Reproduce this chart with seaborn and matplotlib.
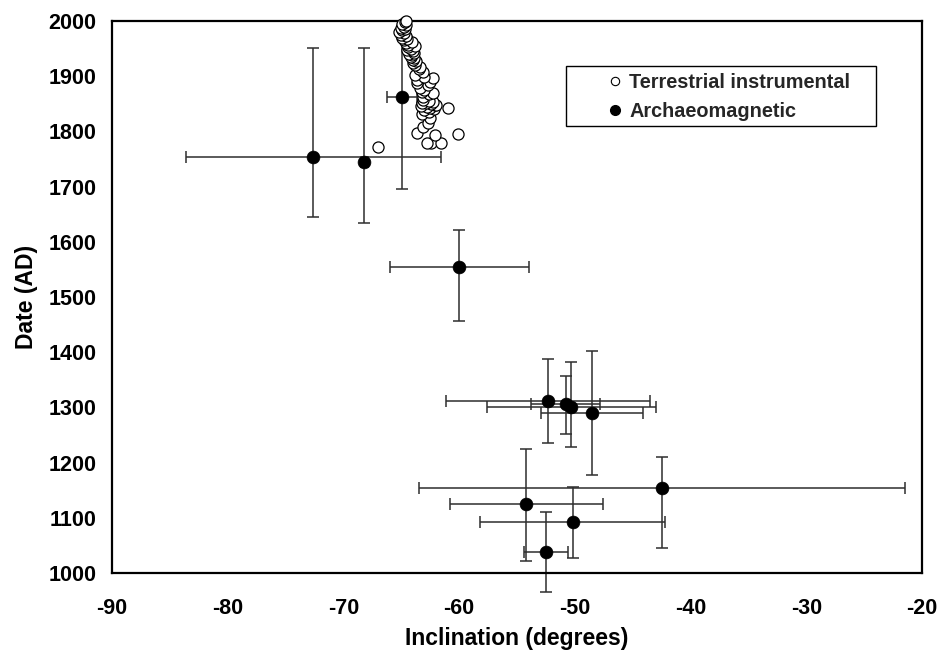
import matplotlib
matplotlib.use('Agg')
import matplotlib.pyplot as plt
import seaborn as sns
import pandas as pd
from matplotlib.lines import Line2D
from matplotlib.patches import Rectangle

sns.set_theme(style='white')
plt.rcParams['font.family'] = ['Liberation Sans', 'DejaVu Sans']
plt.rcParams['font.weight'] = 'bold'
plt.rcParams['axes.unicode_minus'] = False

# Terrestrial instrumental observations (inclination, date)
terr_date = [1772, 1779, 1779, 1779, 1793, 1795, 1797, 1808, 1815, 1824, 1832, 1835, 1839,
             1840, 1842, 1843, 1845, 1846, 1847, 1848, 1850, 1851, 1852, 1854, 1855, 1857,
             1862, 1868, 1870, 1871, 1875, 1879, 1884, 1888, 1890, 1893, 1897, 1899, 1902,
             1908, 1913, 1917, 1920, 1924, 1928, 1930, 1933, 1935, 1938, 1940, 1942, 1945,
             1948, 1950, 1952, 1955, 1957, 1960, 1962, 1965, 1968, 1970, 1972, 1975, 1978,
             1980, 1983, 1985, 1988, 1990, 1993, 1995, 1998, 2000]
terr_inc = [-67.0, -62.4, -61.6, -62.8, -62.1, -60.1, -63.6, -63.1, -62.7, -62.5, -63.2, -62.6, -63.0,
            -62.2, -61.0, -62.5, -62.8, -63.3, -62.1, -62.0, -62.4, -62.9, -63.2, -62.3, -62.6, -63.1,
            -63.1, -62.6, -62.3, -63.2, -63.0, -63.4, -62.7, -63.6, -62.5, -63.6, -62.3, -63.0, -63.8,
            -63.1, -63.5, -63.4, -63.8, -64.0, -63.7, -64.0, -63.9, -64.2, -64.1, -64.3, -63.9, -64.0,
            -64.5, -64.2, -64.4, -63.8, -64.4, -64.6, -64.1, -64.8, -64.5, -64.9, -64.6, -65.0, -64.8,
            -65.2, -64.9, -64.7, -65.0, -64.8, -64.6, -64.9, -64.7, -64.6]

# Archaeomagnetic results
arch_inc = [-72.6, -68.2, -64.9, -60.0, -52.3, -50.8, -50.3, -48.5, -42.5, -54.2, -50.2, -52.5]
arch_date = [1754, 1745, 1862, 1554, 1312, 1306, 1300, 1290, 1154, 1125, 1092, 1038]
arch_inc_err = [11.0, 0.3, 1.3, 6.0, 8.8, 3.0, 7.3, 4.4, 21.0, 6.6, 8.0, 1.9]
arch_date_err_lo = [109, 111, 166, 97, 76, 54, 72, 112, 108, 103, 65, 73]
arch_date_err_hi = [197, 206, 138, 67, 76, 51, 82, 112, 57, 100, 64, 73]

terr = pd.DataFrame({'Inclination': terr_inc, 'Date': terr_date})
arch = pd.DataFrame({'Inclination': arch_inc, 'Date': arch_date})

fig = plt.figure(figsize=(9.42, 6.55), dpi=100)
ax = fig.add_axes([112 / 942, 82 / 655, 810 / 942, 552 / 655])

eb = ax.errorbar(arch['Inclination'], arch['Date'], xerr=arch_inc_err,
                 yerr=[arch_date_err_lo, arch_date_err_hi], fmt='none',
                 ecolor='#2e2e2e', elinewidth=1.1, capsize=4, capthick=1.1, zorder=2)
for a in list(eb.lines[1]) + list(eb.lines[2]):
    a.set_clip_on(False)

sns.scatterplot(data=terr, x='Inclination', y='Date', marker='o', s=64,
                facecolor='white', edgecolor='black', linewidth=0.9, ax=ax,
                zorder=3, clip_on=False, legend=False)
sns.scatterplot(data=arch, x='Inclination', y='Date', marker='o', s=85,
                color='black', edgecolor='black', linewidth=0.5, ax=ax,
                zorder=4, legend=False)

ax.set_xlim(-90, -20)
ax.set_ylim(1000, 2000)
ax.set_xticks(range(-90, -19, 10))
ax.set_yticks(range(1000, 2001, 100))
ax.tick_params(axis='both', which='major', direction='in', length=6, width=1.5,
               color='black', labelsize=15.5, labelcolor='black')
ax.tick_params(axis='x', pad=18)
ax.tick_params(axis='y', pad=11)
for lab in ax.get_xticklabels() + ax.get_yticklabels():
    lab.set_fontweight('bold')
for sp in ax.spines.values():
    sp.set_color('black')
    sp.set_linewidth(1.6)

ax.set_xlabel('Inclination (degrees)', fontsize=16.5, fontweight='bold', color='black', labelpad=6)
ax.set_ylabel('Date (AD)', fontsize=16.5, fontweight='bold', color='black', labelpad=8)

# legend box
ax.add_patch(Rectangle((0.5605, 0.81), 0.3827, 0.1087, transform=ax.transAxes,
                       facecolor='white', edgecolor='black', linewidth=1.0, zorder=5))
handles = [
    Line2D([], [], linestyle='none', marker='o', markersize=6, markerfacecolor='white',
           markeredgecolor='black', markeredgewidth=0.8),
    Line2D([], [], linestyle='none', marker='o', markersize=7, markerfacecolor='black',
           markeredgecolor='black'),
]
leg = ax.legend(handles, ['Terrestrial instrumental', 'Archaeomagnetic'],
                loc='upper left', bbox_to_anchor=(0.5992, 0.924), frameon=False,
                borderpad=0, handlelength=0.8, handletextpad=0.3, labelspacing=0.5,
                prop={'size': 14.3, 'weight': 'bold'})
leg.set_zorder(6)

fig.savefig('out.png', dpi=100)
